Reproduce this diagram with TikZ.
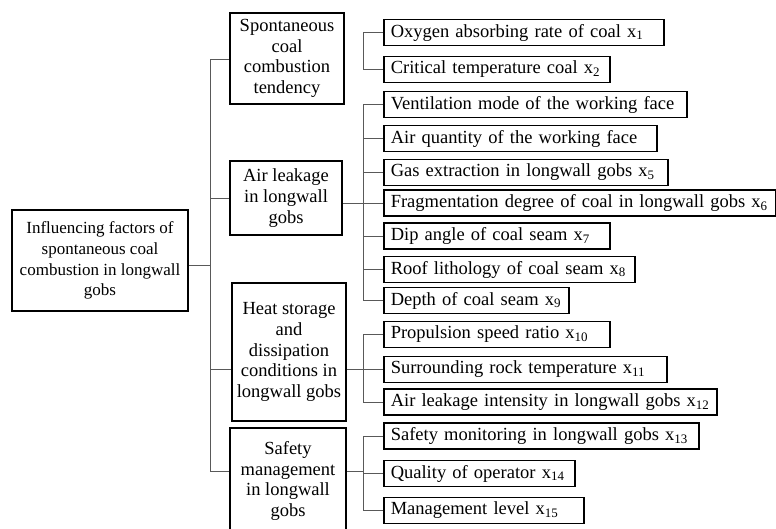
\documentclass[tikz,border=0pt]{standalone}
\usepackage{fontspec}
\setmainfont{Liberation Serif}

\begin{document}
\begin{tikzpicture}[
    x=1pt, y=-1pt,
    font=\fontsize{18.5}{20.7}\selectfont,
    box/.style={draw=black, line width=1.5pt, inner sep=3pt},
    factor/.style={box, align=center},
    leaf/.style={box, anchor=west, align=left, inner xsep=7pt, minimum height=26pt},
    conn/.style={black!65, line width=0.9pt},
  ]
  \useasboundingbox (0,0) rectangle (776,528);
  \clip (0,0) rectangle (776,528);

  % Root
  \node[factor, minimum width=176pt, minimum height=101pt,
    font=\fontsize{17}{20.7}\selectfont] (root) at (100,260.5)
    {Influencing factors of\\spontaneous coal\\combustion in longwall\\gobs};

  % Factor groups
  \node[factor, minimum width=114pt, minimum height=91pt] (spont) at (287,58.5)
    {Spontaneous\\coal\\combustion\\tendency};
  \node[factor, minimum width=112pt, minimum height=74pt] (air) at (286,198)
    {Air leakage\\in longwall\\gobs};
  \node[factor, minimum width=114pt, minimum height=138pt] (heat) at (289,352)
    {Heat storage\\and\\dissipation\\conditions in\\longwall gobs};
  \node[factor, minimum width=116pt, minimum height=106pt] (safety) at (288,481)
    {Safety\\management\\in longwall\\gobs};

  % Single factors
  \foreach \n/\y/\tw/\txt in {
      1/32.5/266/{Oxygen absorbing rate of coal x\textsubscript{1}},
      2/69.5/212/{Critical temperature coal x\textsubscript{2}},
      3/104.5/289/{Ventilation mode of the working face},
      4/138.5/259/{Air quantity of the working face},
      5/172.5/270/{Gas extraction in longwall gobs x\textsubscript{5}},
      6/203/378/{Fragmentation degree of coal in longwall gobs x\textsubscript{6}},
      7/236/212/{Dip angle of coal seam x\textsubscript{7}},
      8/269.5/237/{Roof lithology of coal seam x\textsubscript{8}},
      9/300.5/171/{Depth of coal seam x\textsubscript{9}},
      10/334.5/212/{Propulsion speed ratio x\textsubscript{10}},
      11/369.5/269/{Surrounding rock temperature x\textsubscript{11}},
      12/402/319/{Air leakage intensity in longwall gobs x\textsubscript{12}},
      13/436/301/{Safety monitoring in longwall gobs x\textsubscript{13}},
      14/473.5/177/{Quality of operator x\textsubscript{14}},
      15/510.5/186/{Management level x\textsubscript{15}}}
    \node[leaf, text width=\tw pt] (l\n) at (383,\y) {\mbox{\txt}};

  % Trunk
  \coordinate (trunk) at (210,0);
  \coordinate (bracket) at (363,0);
  \coordinate (yroot) at (0,265);
  \coordinate (yspont) at (0,59);
  \coordinate (ysafety) at (0,471);

  \draw[conn] (root.east |- yroot) -- (trunk |- yroot);
  \draw[conn] (trunk |- yspont) -- (trunk |- ysafety);
  \draw[conn] (trunk |- yspont) -- (spont.west |- yspont);
  \draw[conn] (trunk |- air.west) -- (air.west);
  \draw[conn] (trunk |- l11.west) -- (heat.west |- l11.west);
  \draw[conn] (trunk |- ysafety) -- (safety.west |- ysafety);

  % Brackets
  \draw[conn] (air.east |- l6.west) -- (l6.west);
  \draw[conn] (heat.east |- l11.west) -- (l11.west);
  \draw[conn] (safety.east |- ysafety) -- (bracket |- ysafety);
  \foreach \first/\last in {1/2, 3/9, 10/12, 13/15}
    \draw[conn] (bracket |- l\first.west) -- (bracket |- l\last.west);
  \foreach \n in {1,...,15}
    \draw[conn] (bracket |- l\n.west) -- (l\n.west);
\end{tikzpicture}
\end{document}
